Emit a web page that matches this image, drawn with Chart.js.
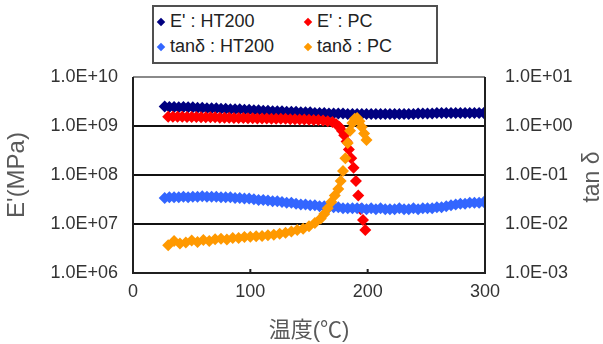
<!DOCTYPE html>
<html>
<head>
<meta charset="utf-8">
<script src="https://cdn.jsdelivr.net/npm/chart.js@4/dist/chart.umd.min.js"></script>
<style>
  body { margin: 0; background: #fff; }
  #wrap { position: relative; width: 603px; height: 344px; }
  #legend {
    position: absolute; left: 152px; top: 5px; width: 282px; height: 53px;
    border: 2px solid #505050; background: #fff;
    font-family: "Liberation Sans", Arial, sans-serif; font-size: 18px; color: #222;
    display: grid; grid-template-columns: 147px 1fr; grid-template-rows: 25px 25px;
    padding-top: 2px; box-sizing: content-box;
  }
  #legend span { display: flex; align-items: center; white-space: pre; }
  #legend i { display: inline-block; width: 6px; height: 6px; transform: rotate(45deg); margin: 0 6px 0 4px; }
</style>
</head>
<body>
<div id="wrap">
  <canvas id="c" width="603" height="344"></canvas>
  <div id="legend"></div>
</div>
<script>
// --- данные ---
const seriesNames = ["E' : HT200", "E' : PC", "tanδ : HT200", "tanδ : PC"];
const seriesColors = ['#000080', '#ff0000', '#3366ff', '#ff9900'];

const xTicks = [0, 100, 200, 300];
const yTicks = [1e6, 1e7, 1e8, 1e9, 1e10];
const yTickLabels = ['1.0E+06', '1.0E+07', '1.0E+08', '1.0E+09', '1.0E+10'];
const y1Ticks = [1e-3, 1e-2, 1e-1, 1e0, 1e1];
const y1TickLabels = ['1.0E-03', '1.0E-02', '1.0E-01', '1.0E+00', '1.0E+01'];

// HT200 (E' и tanδ), температура °C
const tempHT = [
  27, 31, 35, 39, 43, 47, 51, 55, 59, 63,
  67, 71, 75, 79, 83, 87, 91, 95, 99, 103,
  107, 111, 115, 119, 123, 127, 131, 135, 139, 143,
  147, 151, 155, 159, 163, 167, 171, 175, 179, 183,
  187, 191, 195, 199, 203, 207, 211, 215, 219, 223,
  227, 231, 235, 239, 243, 247, 251, 255, 259, 263,
  267, 271, 275, 279, 283, 287, 291, 295, 299
];
const eHT = [
  2.5e9, 2.45e9, 2.45e9, 2.4e9, 2.45e9, 2.4e9, 2.4e9, 2.35e9, 2.35e9, 2.3e9,
  2.3e9, 2.3e9, 2.25e9, 2.25e9, 2.2e9, 2.2e9, 2.2e9, 2.15e9, 2.15e9, 2.1e9,
  2.1e9, 2.05e9, 2.05e9, 2.0e9, 2.0e9, 2.0e9, 1.95e9, 1.95e9, 1.95e9, 1.9e9,
  1.9e9, 1.9e9, 1.85e9, 1.85e9, 1.85e9, 1.8e9, 1.8e9, 1.8e9, 1.8e9, 1.75e9,
  1.75e9, 1.75e9, 1.75e9, 1.75e9, 1.75e9, 1.75e9, 1.75e9, 1.75e9, 1.75e9, 1.75e9,
  1.75e9, 1.75e9, 1.75e9, 1.75e9, 1.8e9, 1.8e9, 1.8e9, 1.8e9, 1.85e9, 1.85e9,
  1.85e9, 1.85e9, 1.85e9, 1.85e9, 1.85e9, 1.85e9, 1.85e9, 1.85e9, 1.85e9
];
const tanHT = [
  0.034, 0.035, 0.035, 0.035, 0.036, 0.035, 0.036, 0.036, 0.037, 0.036,
  0.036, 0.036, 0.035, 0.035, 0.035, 0.034, 0.034, 0.033, 0.033, 0.032,
  0.031, 0.031, 0.030, 0.029, 0.029, 0.028, 0.027, 0.027, 0.026, 0.025,
  0.025, 0.024, 0.024, 0.023, 0.023, 0.022, 0.022, 0.022, 0.021, 0.021,
  0.021, 0.021, 0.021, 0.020, 0.021, 0.020, 0.021, 0.020, 0.020, 0.020,
  0.021, 0.020, 0.020, 0.021, 0.020, 0.021, 0.021, 0.021, 0.022, 0.022,
  0.023, 0.024, 0.025, 0.026, 0.026, 0.027, 0.027, 0.027, 0.028
];

// PC: E'
const tempPcE = [
  30, 34, 38, 42, 46, 50, 54, 58, 62, 66,
  70, 74, 78, 82, 86, 90, 94, 98, 102, 106,
  110, 114, 118, 122, 126, 130, 134, 138, 142, 146,
  150, 154, 158, 162, 166, 170, 173, 176, 178, 180,
  182, 184, 186, 188, 190, 192, 194, 196, 198
];
const ePC = [
  1.55e9, 1.55e9, 1.55e9, 1.55e9, 1.52e9, 1.52e9, 1.52e9, 1.5e9, 1.5e9, 1.5e9,
  1.5e9, 1.48e9, 1.48e9, 1.47e9, 1.46e9, 1.45e9, 1.45e9, 1.44e9, 1.44e9, 1.43e9,
  1.42e9, 1.42e9, 1.41e9, 1.4e9, 1.4e9, 1.4e9, 1.38e9, 1.37e9, 1.36e9, 1.35e9,
  1.34e9, 1.33e9, 1.32e9, 1.3e9, 1.25e9, 1.2e9, 1.1e9, 9.5e8, 8.0e8, 6.5e8,
  4.8e8, 3.3e8, 2.2e8, 1.4e8, 7.5e7, 3.8e7, 2.0e7, 1.2e7, 7.5e6
];

// PC: tanδ
const tempPcTan = [
  30, 35, 40, 45, 50, 55, 60, 65, 70, 75,
  80, 85, 90, 95, 100, 105, 110, 115, 120, 125,
  130, 135, 140, 145, 150, 155, 160, 163, 166, 169,
  172, 175, 177, 179, 181, 183, 185, 187, 189, 191,
  193, 195, 197, 199
];
const tanPC = [
  0.0037, 0.0045, 0.0040, 0.0042, 0.0046, 0.0043, 0.0047, 0.0045, 0.0049, 0.0050,
  0.0048, 0.0052, 0.0052, 0.0054, 0.0055, 0.0056, 0.0057, 0.0059, 0.0060, 0.0063,
  0.0066, 0.0070, 0.0075, 0.0080, 0.0090, 0.0105, 0.013, 0.016, 0.021, 0.028,
  0.038, 0.052, 0.075, 0.12, 0.22, 0.45, 0.8, 1.15, 1.4, 1.45,
  1.25, 0.95, 0.7, 0.52
];

const toPoints = (xs, ys) => xs.map((x, i) => ({ x: x, y: ys[i] }));

// --- легенда ---
const legendEl = document.getElementById('legend');
seriesNames.forEach((name, i) => {
  const s = document.createElement('span');
  s.innerHTML = '<i style="background:' + seriesColors[i] + '"></i>' + name;
  legendEl.appendChild(s);
});

// --- рамка, засечки по X и правый заголовок ---
const framePlugin = {
  id: 'frame',
  afterDraw(chart) {
    const { ctx, chartArea: a, scales } = chart;
    ctx.save();
    ctx.lineWidth = 2;
    ctx.strokeStyle = '#8a8a8a';
    ctx.beginPath(); ctx.moveTo(a.left, a.top); ctx.lineTo(a.right, a.top); ctx.stroke();
    ctx.strokeStyle = '#202020';
    ctx.beginPath();
    ctx.moveTo(a.left, a.top); ctx.lineTo(a.left, a.bottom);
    ctx.lineTo(a.right, a.bottom); ctx.lineTo(a.right, a.top);
    ctx.stroke();
    xTicks.slice(1, -1).forEach(v => {
      const px = scales.x.getPixelForValue(v);
      ctx.beginPath(); ctx.moveTo(px, a.bottom); ctx.lineTo(px, a.bottom - 4); ctx.stroke();
    });
    // заголовок правой оси читается снизу вверх
    ctx.translate(593, (a.top + a.bottom) / 2 + 2);
    ctx.rotate(-Math.PI / 2);
    ctx.fillStyle = '#595959';
    ctx.font = '23px "Liberation Sans", Arial, sans-serif';
    ctx.textAlign = 'center';
    ctx.textBaseline = 'middle';
    ctx.fillText('tan δ', 0, 0);
    ctx.restore();
  }
};

const tickFont = { family: '"Liberation Sans", Arial, sans-serif', size: 18 };
const titleFont = { family: '"Liberation Sans", "Noto Sans CJK JP", Arial, sans-serif', size: 22 };

new Chart(document.getElementById('c'), {
  type: 'scatter',
  data: {
    datasets: [
      { label: seriesNames[0], data: toPoints(tempHT, eHT), yAxisID: 'y', order: 4,
        backgroundColor: seriesColors[0], borderColor: seriesColors[0] },
      { label: seriesNames[1], data: toPoints(tempPcE, ePC), yAxisID: 'y', order: 3,
        backgroundColor: seriesColors[1], borderColor: seriesColors[1] },
      { label: seriesNames[2], data: toPoints(tempHT, tanHT), yAxisID: 'y1', order: 2,
        backgroundColor: seriesColors[2], borderColor: seriesColors[2] },
      { label: seriesNames[3], data: toPoints(tempPcTan, tanPC), yAxisID: 'y1', order: 1,
        backgroundColor: seriesColors[3], borderColor: seriesColors[3] }
    ]
  },
  options: {
    responsive: false,
    animation: false,
    layout: { padding: { top: 77, left: 0, right: 0, bottom: 0 } },
    elements: { point: { pointStyle: 'rectRot', radius: 6, borderWidth: 0 } },
    plugins: { legend: { display: false }, tooltip: { enabled: false } },
    scales: {
      x: {
        type: 'linear', min: 0, max: 300,
        afterBuildTicks: (s) => { s.ticks = xTicks.map(v => ({ value: v })); },
        afterFit: (s) => { s.height = 71; },
        grid: { display: false, drawTicks: false },
        border: { display: false },
        ticks: { font: tickFont, color: '#333', padding: 8, maxRotation: 0 },
        title: { display: true, text: '温度(℃)', font: titleFont, color: '#595959', padding: { top: 6, bottom: 0 } }
      },
      y: {
        type: 'logarithmic', position: 'left', min: 1e6, max: 1e10,
        afterBuildTicks: (s) => { s.ticks = yTicks.map(v => ({ value: v })); },
        afterFit: (s) => { s.width = 133; },
        grid: {
          drawTicks: false, lineWidth: 2,
          color: (c) => (c.tick && (c.tick.value === 1e6 || c.tick.value === 1e10)) ? 'rgba(0,0,0,0)' : '#111'
        },
        border: { display: false },
        ticks: { font: tickFont, color: '#333', padding: 15,
          callback: (v) => yTickLabels[yTicks.indexOf(v)] },
        title: { display: true, text: "E'(MPa)", font: { family: titleFont.family, size: 24 }, color: '#595959', padding: { top: 3, bottom: 0 } }
      },
      y1: {
        type: 'logarithmic', position: 'right', min: 1e-3, max: 1e1,
        afterBuildTicks: (s) => { s.ticks = y1Ticks.map(v => ({ value: v })); },
        afterFit: (s) => { s.width = 118; },
        grid: { display: false, drawTicks: false },
        border: { display: false },
        ticks: { font: tickFont, color: '#333', padding: 20,
          callback: (v) => y1TickLabels[y1Ticks.indexOf(v)] }
      }
    }
  },
  plugins: [framePlugin]
});
</script>
</body>
</html>
